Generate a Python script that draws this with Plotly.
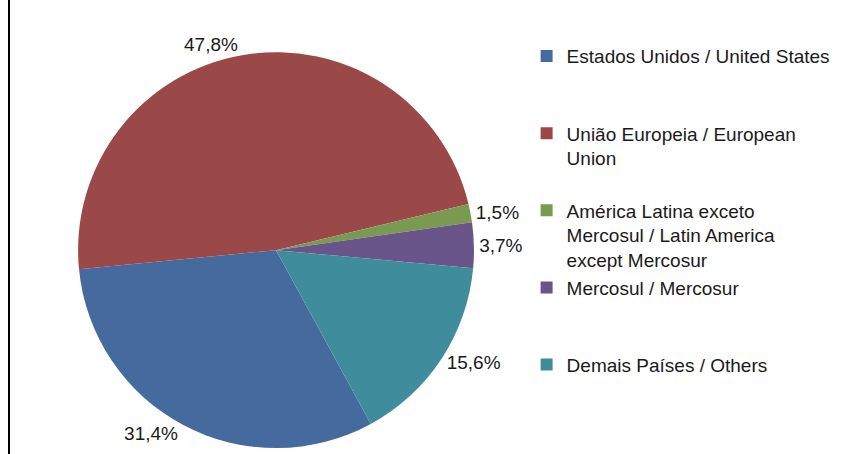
import plotly.graph_objects as go

labels = [
    "Estados Unidos / United States",
    "União Europeia / European<br>Union",
    "América Latina exceto<br>Mercosul / Latin America<br>except Mercosur",
    "Mercosul / Mercosur",
    "Demais Países / Others",
]
# trailing blank lines reproduce the legend spacing of the original
legend_pad = ["<br> <br> ", "<br> ", "", "<br> <br> ", ""]
values = [31.4, 47.8, 1.5, 3.7, 15.6]
colors = ["#456A9E", "#9A4848", "#7A9A52", "#69558A", "#3F8D9C"]

text = [f"{v:.1f}".replace(".", ",") + "%" for v in values]

fig = go.Figure(
    go.Pie(
        labels=[l + p for l, p in zip(labels, legend_pad)],
        values=values,
        text=text,
        textinfo="text",
        textposition="outside",
        sort=False,
        direction="clockwise",
        rotation=151.4,
        marker=dict(colors=colors, line=dict(width=0)),
        outsidetextfont=dict(color="#1a1a1a", size=19),
        domain=dict(x=[0.092, 0.559], y=[0.013, 0.885]),
        hoverinfo="skip",
    )
)

fig.update_layout(
    width=848,
    height=454,
    margin=dict(l=0, r=0, t=0, b=0),
    paper_bgcolor="white",
    plot_bgcolor="white",
    font=dict(family="Liberation Sans, Arial, sans-serif", size=19, color="#1a1a1a"),
    legend=dict(
        x=0.621,
        y=0.918,
        xanchor="left",
        yanchor="top",
        valign="top",
        font=dict(size=19),
        itemclick=False,
    ),
    shapes=[
        dict(type="line", xref="paper", yref="paper", x0=0.0106, x1=0.0106, y0=0, y1=1,
             line=dict(color="black", width=2))
    ],
)

fig.write_html(
    "out.html",
    config={"displayModeBar": False},
    post_script="document.body.style.margin='0';",
)
